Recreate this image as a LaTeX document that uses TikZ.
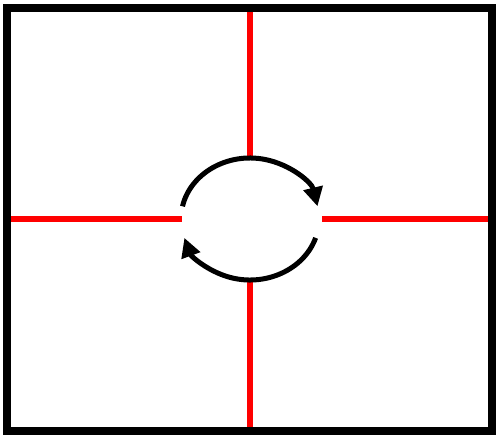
\documentclass[tikz,border=0pt]{standalone}
\usetikzlibrary{arrows.meta}
\begin{document}
\begin{tikzpicture}[x=1pt,y=1pt,
  redline/.style={red,line width=6pt},
  turn/.style={black,line width=5pt,-{Triangle[length=19pt,width=19pt]}}]
\useasboundingbox (0,0) rectangle (500,440);
\fill[white] (0,0) rectangle (500,440);
\coordinate (c) at (250,221);
\draw[redline] (250,430) -- (250,280);
\draw[redline] (250,158) -- (250,8);
\draw[redline] (10,221) -- (182,221);
\draw[redline] (322,221) -- (490,221);
\draw[black,line width=8pt] (7,9) rectangle (492,432);
\draw[turn] ([shift={(168:69 and 61)}]c) arc[start angle=168,end angle=12,x radius=69,y radius=61];
\draw[turn] ([shift={(-18:69 and 61)}]c) arc[start angle=-18,end angle=-162,x radius=69,y radius=61];
\end{tikzpicture}
\end{document}
